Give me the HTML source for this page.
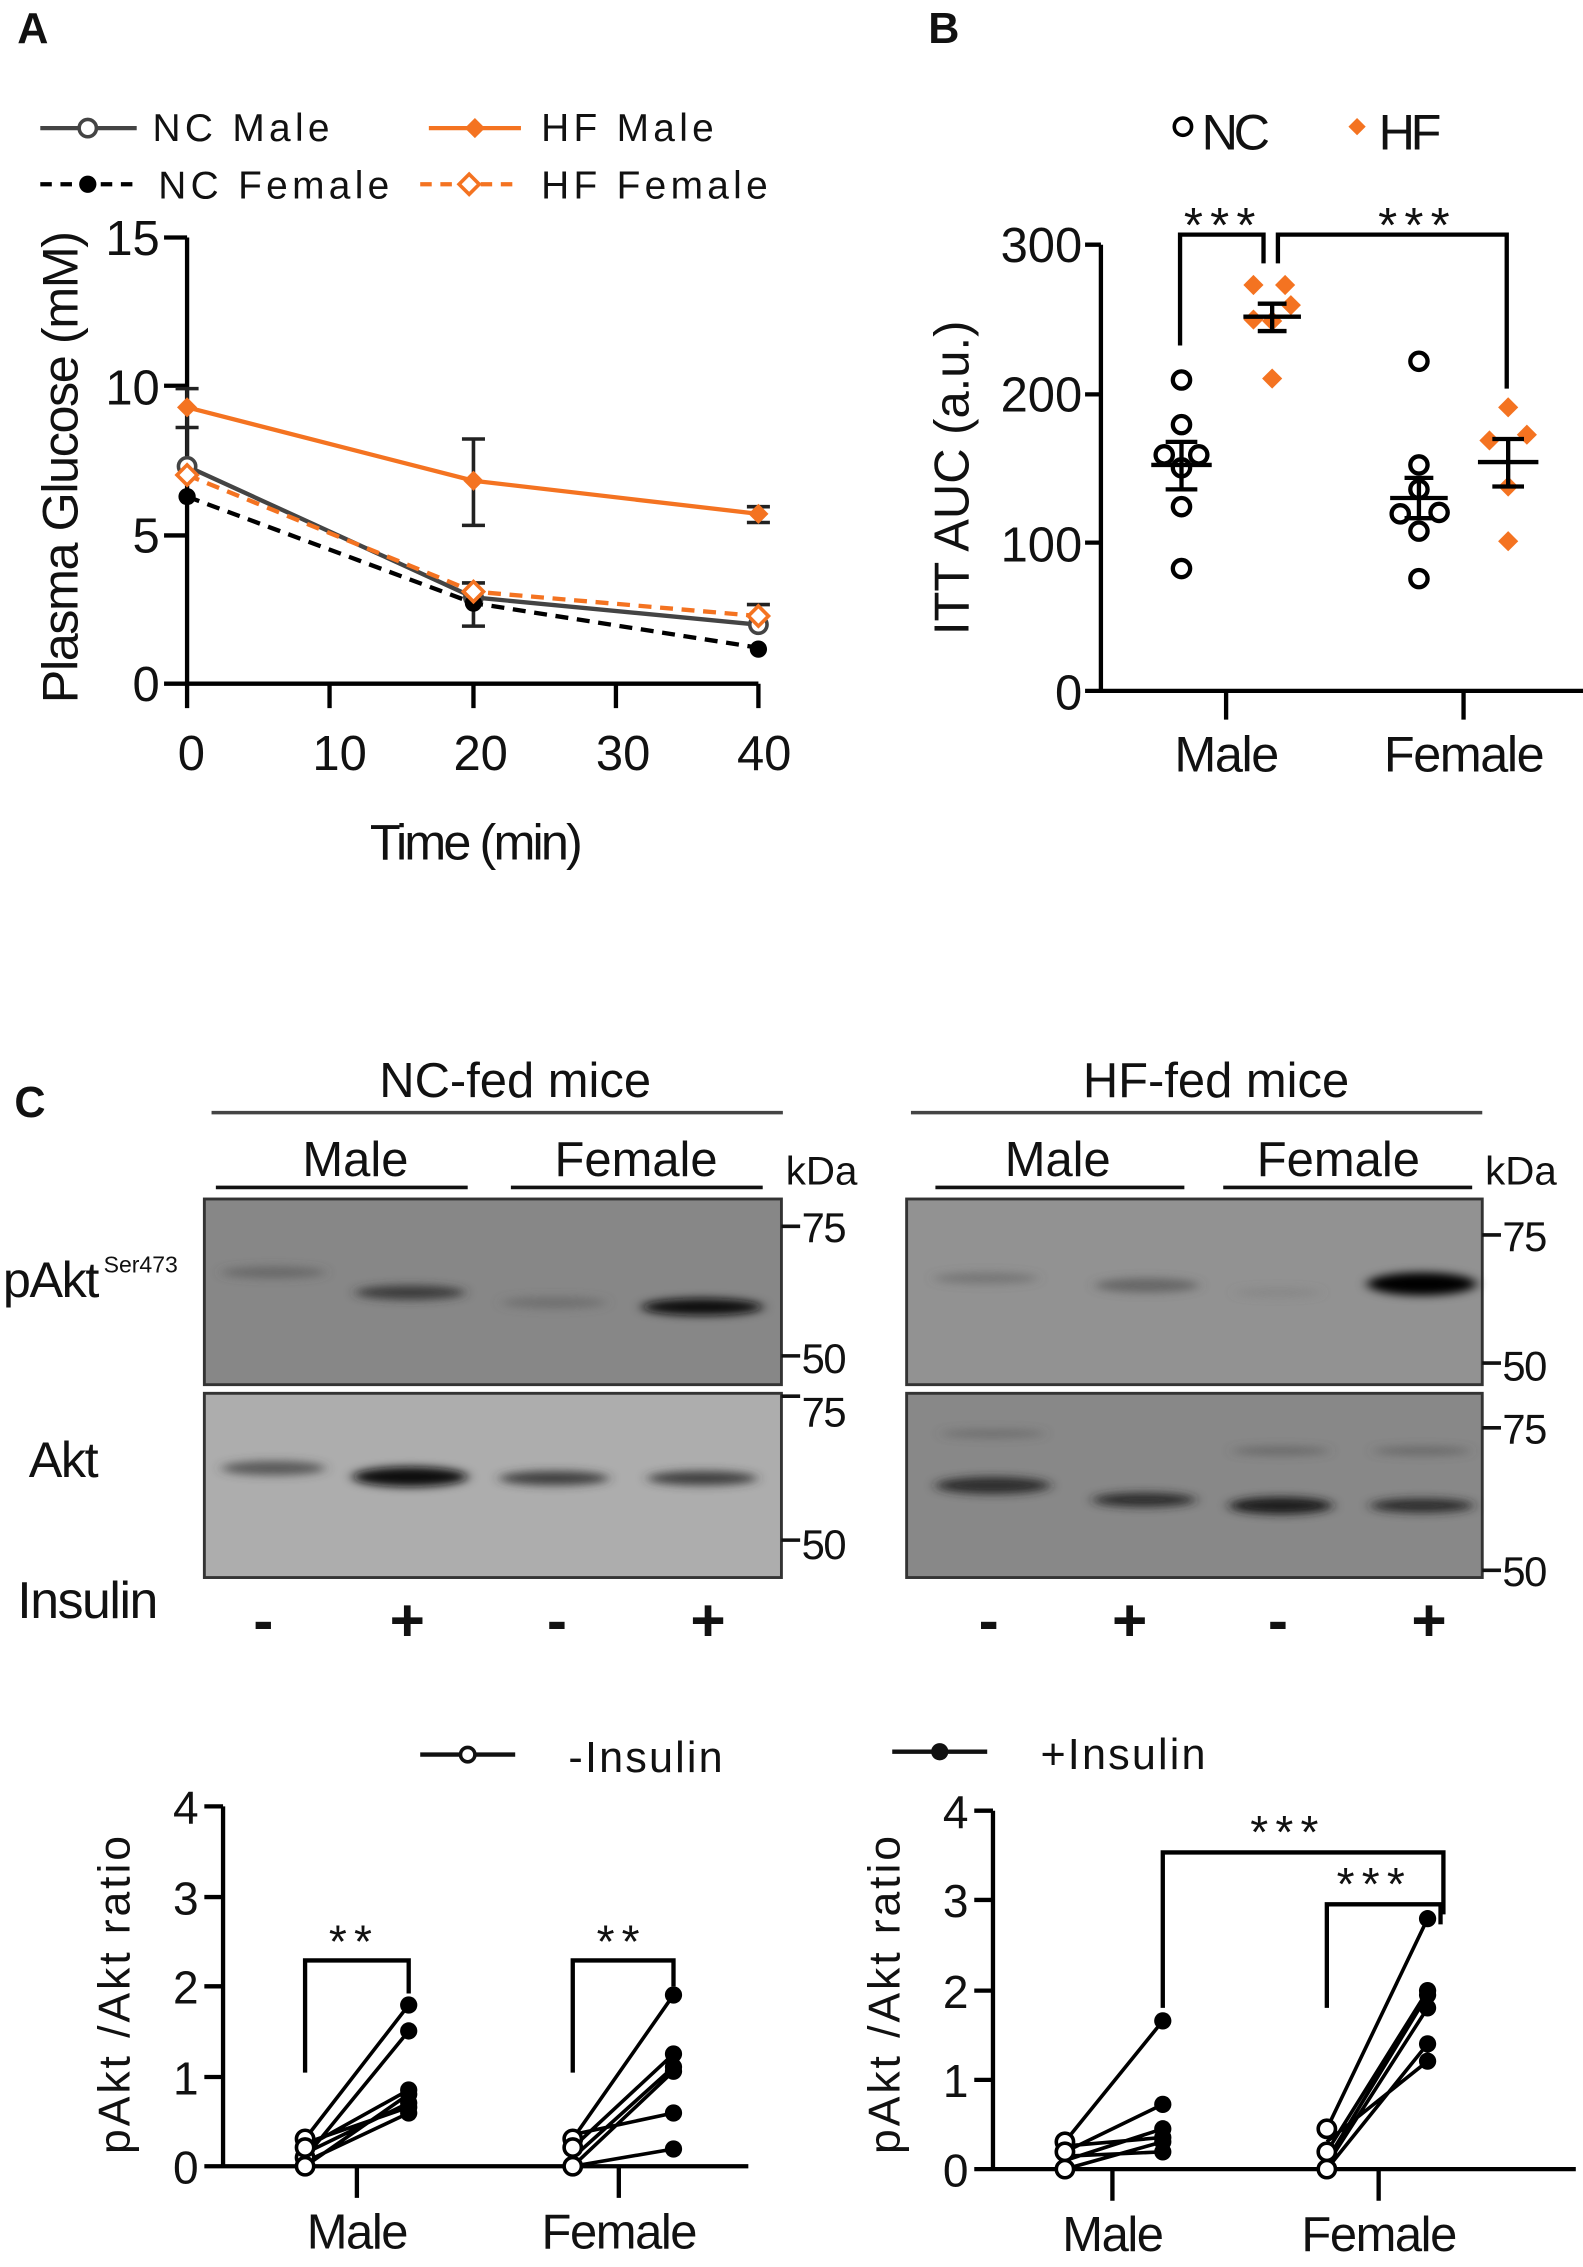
<!DOCTYPE html>
<html><head><meta charset="utf-8"><style>
html,body{margin:0;padding:0;background:#fff}
svg{display:block}
text{font-family:"Liberation Sans",Arial,sans-serif;fill:#111}
</style></head><body>
<svg width="1583" height="2267" viewBox="0 0 1100 1575" preserveAspectRatio="none" xmlns="http://www.w3.org/2000/svg">
<defs>
<filter id="bl" x="-30%" y="-200%" width="160%" height="500%"><feGaussianBlur stdDeviation="4 3"/></filter>
</defs>
<!-- Panel A -->
<text x="12" y="30" font-size="30" font-weight="bold">A</text>
<g font-size="27" letter-spacing="3">
<line x1="28" y1="89" x2="95" y2="89" stroke="#444" stroke-width="3"/><circle cx="61" cy="89" r="6" fill="#fff" stroke="#444" stroke-width="2.5"/>
<text x="106" y="98">NC Male</text>
<line x1="28" y1="128" x2="95" y2="128" stroke="#000" stroke-width="3" stroke-dasharray="8,6"/><circle cx="61" cy="128" r="6" fill="#000"/>
<text x="110" y="138">NC Female</text>
<line x1="298" y1="89" x2="362" y2="89" stroke="#f47321" stroke-width="3"/><path d="M330 82 L337 89 L330 96 L323 89Z" fill="#f47321"/>
<text x="376" y="98">HF Male</text>
<line x1="292" y1="128" x2="362" y2="128" stroke="#f47321" stroke-width="3" stroke-dasharray="8,6"/><path d="M326 121 L333 128 L326 135 L319 128Z" fill="#fff" stroke="#f47321" stroke-width="2.5"/>
<text x="376" y="138">HF Female</text>
</g>
<g stroke="#000" stroke-width="3" fill="none">
<path d="M130 165 V475 H527"/>
<path d="M114 165 H130 M114 268 H130 M114 372 H130 M114 475 H130"/>
<path d="M130 475 V492 M229 475 V492 M329 475 V492 M428 475 V492 M527 475 V492"/>
</g>
<g font-size="34" text-anchor="end"><text x="111" y="177">15</text><text x="111" y="281">10</text><text x="111" y="384">5</text><text x="111" y="487">0</text></g>
<g font-size="34" text-anchor="middle"><text x="133" y="535">0</text><text x="236" y="535">10</text><text x="334" y="535">20</text><text x="433" y="535">30</text><text x="531" y="535">40</text></g>
<text x="330" y="597" font-size="35" text-anchor="middle" letter-spacing="-2">Time (min)</text>
<text transform="translate(54,325) rotate(-90)" font-size="35" text-anchor="middle" letter-spacing="-1">Plasma Glucose (mM)</text>
<g stroke="#222" stroke-width="2.5">
<path d="M130 270 V330 M122 270 H138 M122 297 H138"/>
<path d="M329 305 V365 M321 305 H337 M321 365 H337"/>
<path d="M527 352 V363 M519 352 H535 M519 363 H535"/>
<path d="M329 405 V435 M321 405 H337 M321 435 H337"/>
<path d="M527 420 V440 M519 420 H535"/>
</g>
<polyline points="130,324 329,415 527,434" fill="none" stroke="#444" stroke-width="3"/>
<polyline points="130,345 329,419 527,450" fill="none" stroke="#000" stroke-width="3" stroke-dasharray="9,6"/>
<polyline points="130,330 329,411 527,428" fill="none" stroke="#f47321" stroke-width="3" stroke-dasharray="9,6"/>
<polyline points="130,283 329,334 527,357" fill="none" stroke="#f47321" stroke-width="3"/>
<circle cx="130" cy="324" r="6" fill="#fff" stroke="#444" stroke-width="2.5"/><circle cx="329" cy="415" r="6" fill="#fff" stroke="#444" stroke-width="2.5"/><circle cx="527" cy="434" r="6" fill="#fff" stroke="#444" stroke-width="2.5"/>
<circle cx="130" cy="345" r="6" fill="#000"/><circle cx="329" cy="419" r="6" fill="#000"/><circle cx="527" cy="451" r="6" fill="#000"/>
<g fill="#fff" stroke="#f47321" stroke-width="2.5"><path d="M130 323 L137 330 L130 337 L123 330Z"/><path d="M329 404 L336 411 L329 418 L322 411Z"/><path d="M527 421 L534 428 L527 435 L520 428Z"/></g>
<g fill="#f47321"><path d="M130 276 L137 283 L130 290 L123 283Z"/><path d="M329 327 L336 334 L329 341 L322 334Z"/><path d="M527 350 L534 357 L527 364 L520 357Z"/></g>

<!-- Panel B -->
<text x="645" y="30" font-size="30" font-weight="bold">B</text>
<circle cx="822" cy="88" r="6" fill="#fff" stroke="#000" stroke-width="2.5"/><text x="835" y="104" font-size="35" letter-spacing="-3">NC</text>
<path d="M943 82 L949 88 L943 94 L937 88Z" fill="#f47321"/><text x="958" y="104" font-size="35" letter-spacing="-3">HF</text>
<g stroke="#000" stroke-width="3" fill="none">
<path d="M765 170 V480 H1100"/>
<path d="M754 170 H765 M754 274 H765 M754 377 H765 M754 480 H765"/>
<path d="M852 480 V500 M1017 480 V500"/>
<path d="M820 240 V163 H878 V183"/>
<path d="M888 183 V163 H1047 V270"/>
</g>
<g font-size="34" text-anchor="end"><text x="752" y="182">300</text><text x="752" y="286">200</text><text x="752" y="390">100</text><text x="752" y="493">0</text></g>
<text x="852" y="536" font-size="35" text-anchor="middle" letter-spacing="-1">Male</text>
<text x="1017" y="536" font-size="35" text-anchor="middle" letter-spacing="-1">Female</text>
<text transform="translate(673,332) rotate(-90)" font-size="34" text-anchor="middle">ITT AUC (a.u.)</text>
<text x="850" y="168" font-size="34" text-anchor="middle" letter-spacing="5">***</text>
<text x="985" y="168" font-size="34" text-anchor="middle" letter-spacing="5">***</text>
<g fill="#fff" stroke="#000" stroke-width="3">
<circle cx="821" cy="264" r="6"/><circle cx="821" cy="295" r="6"/><circle cx="809" cy="316" r="6"/><circle cx="833" cy="316" r="6"/><circle cx="821" cy="325" r="6"/><circle cx="821" cy="352" r="6"/><circle cx="821" cy="395" r="6"/>
<circle cx="986" cy="251" r="6"/><circle cx="986" cy="323" r="6"/><circle cx="986" cy="340" r="6"/><circle cx="1000" cy="356" r="6"/><circle cx="973" cy="357" r="6"/><circle cx="986" cy="369" r="6"/><circle cx="986" cy="402" r="6"/>
</g>
<g fill="#f47321">
<path d="M871 191l7 7-7 7-7-7z"/><path d="M893 191l7 7-7 7-7-7z"/><path d="M897 205l7 7-7 7-7-7z"/><path d="M871 215l7 7-7 7-7-7z"/><path d="M884 216l7 7-7 7-7-7z"/><path d="M884 256l7 7-7 7-7-7z"/>
<path d="M1048 276l7 7-7 7-7-7z"/><path d="M1061 295l7 7-7 7-7-7z"/><path d="M1035 299l7 7-7 7-7-7z"/><path d="M1048 331l7 7-7 7-7-7z"/><path d="M1048 369l7 7-7 7-7-7z"/>
</g>
<g stroke="#000" stroke-width="3">
<path d="M800 323 H842 M810 307 H832 M810 340 H832 M821 307 V340"/>
<path d="M864 220 H904 M874 211 H894 M874 230 H894 M884 211 V230"/>
<path d="M966 346 H1006 M976 332 H996 M976 360 H996 M986 332 V360"/>
<path d="M1027 321 H1069 M1037 305 H1059 M1037 338 H1059 M1048 305 V338"/>
</g>

<!-- Panel C blots -->
<text x="10" y="776" font-size="30" font-weight="bold">C</text>
<g font-size="34" text-anchor="middle" letter-spacing="0">
<text x="358" y="762">NC-fed mice</text><text x="845" y="762">HF-fed mice</text>
<text x="247" y="817">Male</text><text x="442" y="817">Female</text>
<text x="735" y="817">Male</text><text x="930" y="817">Female</text>
</g>
<g font-size="28"><text x="546" y="823">kDa</text><text x="1032" y="823">kDa</text></g>
<g stroke="#444" stroke-width="2.5">
<path d="M147 773 H544 M633 773 H1030"/>
</g>
<g stroke="#111" stroke-width="2.5">
<path d="M150 825 H325 M355 825 H530 M650 825 H823 M850 825 H1023"/>
</g>
<rect x="142" y="833" width="401" height="129" fill="#878787" stroke="#333" stroke-width="2"/>
<rect x="142" y="968" width="401" height="128" fill="#adadad" stroke="#333" stroke-width="2"/>
<rect x="630" y="833" width="400" height="129" fill="#929292" stroke="#333" stroke-width="2"/>
<rect x="630" y="968" width="400" height="128" fill="#888" stroke="#333" stroke-width="2"/>
<g filter="url(#bl)">
<ellipse cx="190" cy="884" rx="36" ry="4" fill="#555" opacity="0.6"/>
<ellipse cx="285" cy="898" rx="38" ry="5" fill="#333" opacity="0.9"/>
<ellipse cx="385" cy="905" rx="36" ry="4" fill="#666" opacity="0.7"/>
<ellipse cx="488" cy="908" rx="42" ry="6" fill="#111"/>
<ellipse cx="190" cy="1020" rx="36" ry="5" fill="#444" opacity="0.8"/>
<ellipse cx="285" cy="1026" rx="40" ry="7" fill="#111"/>
<ellipse cx="385" cy="1027" rx="38" ry="5" fill="#333" opacity="0.9"/>
<ellipse cx="488" cy="1027" rx="38" ry="5" fill="#333" opacity="0.9"/>
<ellipse cx="685" cy="888" rx="36" ry="4" fill="#666" opacity="0.6"/>
<ellipse cx="797" cy="893" rx="36" ry="5" fill="#555" opacity="0.7"/>
<ellipse cx="888" cy="898" rx="30" ry="3" fill="#777" opacity="0.4"/>
<ellipse cx="988" cy="892" rx="38" ry="8" fill="#000"/>
<ellipse cx="690" cy="1032" rx="40" ry="6" fill="#222" opacity="0.9"/>
<ellipse cx="795" cy="1042" rx="36" ry="5" fill="#222" opacity="0.9"/>
<ellipse cx="890" cy="1046" rx="36" ry="6" fill="#1a1a1a"/>
<ellipse cx="988" cy="1046" rx="36" ry="5" fill="#222" opacity="0.9"/>
<ellipse cx="690" cy="996" rx="36" ry="3" fill="#555" opacity="0.5"/>
<ellipse cx="890" cy="1008" rx="34" ry="3" fill="#555" opacity="0.6"/>
<ellipse cx="988" cy="1008" rx="34" ry="3" fill="#555" opacity="0.6"/>
</g>
<g stroke="#111" stroke-width="2.5">
<path d="M543 852 H556 M543 942 H556 M543 970 H556 M543 1070 H556"/>
<path d="M1030 858 H1043 M1030 947 H1043 M1030 992 H1043 M1030 1091 H1043"/>
</g>
<g font-size="29" letter-spacing="-1">
<text x="557" y="863">75</text><text x="557" y="954">50</text><text x="557" y="991">75</text><text x="557" y="1083">50</text>
<text x="1044" y="869">75</text><text x="1044" y="959">50</text><text x="1044" y="1003">75</text><text x="1044" y="1102">50</text>
</g>
<text x="2" y="901" font-size="35" letter-spacing="-1">pAkt</text><text x="72" y="884" font-size="16">Ser473</text>
<text x="20" y="1026" font-size="35" letter-spacing="-1">Akt</text>
<text x="12" y="1124" font-size="36" letter-spacing="-1">Insulin</text>
<g font-size="42" font-weight="bold" text-anchor="middle">
<text x="183" y="1140">-</text><text x="283" y="1140">+</text><text x="387" y="1140">-</text><text x="492" y="1140">+</text>
<text x="687" y="1140">-</text><text x="785" y="1140">+</text><text x="888" y="1140">-</text><text x="993" y="1140">+</text>
</g>

<!-- Bottom legend -->
<line x1="292" y1="1219" x2="358" y2="1219" stroke="#111" stroke-width="3"/><circle cx="325" cy="1219" r="5" fill="#fff" stroke="#111" stroke-width="2.5"/>
<text x="395" y="1231" font-size="30" letter-spacing="1.5">-Insulin</text>
<line x1="620" y1="1217" x2="686" y2="1217" stroke="#111" stroke-width="3"/><circle cx="653" cy="1217" r="6" fill="#111"/>
<text x="723" y="1229" font-size="30" letter-spacing="1.5">+Insulin</text>

<!-- Bottom left chart -->
<g stroke="#000" stroke-width="3" fill="none">
<path d="M155 1255 V1505 M142 1505 H520"/>
<path d="M142 1255 H155 M142 1318 H155 M142 1380 H155 M142 1443 H155"/>
<path d="M248 1505 V1527 M430 1505 V1527"/>
<path d="M212 1440 V1362 H284 V1385"/>
<path d="M398 1440 V1362 H468 V1380"/>
</g>
<g font-size="32" text-anchor="end"><text x="138" y="1267">4</text><text x="138" y="1330">3</text><text x="138" y="1392">2</text><text x="138" y="1455">1</text><text x="138" y="1517">0</text></g>
<text x="248" y="1562" font-size="34" text-anchor="middle" letter-spacing="-1">Male</text>
<text x="430" y="1562" font-size="34" text-anchor="middle" letter-spacing="-1">Female</text>
<text transform="translate(90,1385) rotate(-90)" font-size="31" text-anchor="middle" letter-spacing="2">pAkt /Akt ratio</text>
<text x="246" y="1360" font-size="32" text-anchor="middle" letter-spacing="5">**</text>
<text x="432" y="1360" font-size="32" text-anchor="middle" letter-spacing="5">**</text>
<g stroke="#000" stroke-width="2.5">
<path d="M212 1486 L284 1393 M212 1499 L284 1411 M212 1492 L284 1452 M212 1505 L284 1455 M212 1496 L284 1461 M212 1489 L284 1464 M212 1502 L284 1468"/>
<path d="M398 1486 L468 1386 M398 1492 L468 1427 M398 1499 L468 1436 M398 1483 L468 1468 M398 1505 L468 1493 M398 1505 L468 1439"/>
</g>
<g fill="#000">
<circle cx="284" cy="1393" r="6"/><circle cx="284" cy="1411" r="6"/><circle cx="284" cy="1452" r="6"/><circle cx="284" cy="1455" r="6"/><circle cx="284" cy="1461" r="6"/><circle cx="284" cy="1464" r="6"/><circle cx="284" cy="1468" r="6"/>
<circle cx="468" cy="1386" r="6"/><circle cx="468" cy="1427" r="6"/><circle cx="468" cy="1436" r="6"/><circle cx="468" cy="1468" r="6"/><circle cx="468" cy="1493" r="6"/><circle cx="468" cy="1439" r="6"/>
</g>
<g fill="#fff" stroke="#000" stroke-width="2.5">
<circle cx="212" cy="1486" r="6"/><circle cx="212" cy="1499" r="6"/><circle cx="212" cy="1492" r="6"/><circle cx="212" cy="1505" r="6"/>
<circle cx="398" cy="1486" r="6"/><circle cx="398" cy="1492" r="6"/><circle cx="398" cy="1505" r="6"/>
</g>

<!-- Bottom right chart -->
<g stroke="#000" stroke-width="3" fill="none">
<path d="M690 1258 V1507 M677 1507 H1095"/>
<path d="M677 1258 H690 M677 1320 H690 M677 1383 H690 M677 1445 H690"/>
<path d="M773 1507 V1529 M958 1507 V1529"/>
<path d="M808 1395 V1287 H1003 V1330"/>
<path d="M922 1395 V1323 H1001 V1337"/>
</g>
<g font-size="32" text-anchor="end"><text x="673" y="1270">4</text><text x="673" y="1332">3</text><text x="673" y="1395">2</text><text x="673" y="1457">1</text><text x="673" y="1519">0</text></g>
<text x="773" y="1564" font-size="34" text-anchor="middle" letter-spacing="-1">Male</text>
<text x="958" y="1564" font-size="34" text-anchor="middle" letter-spacing="-1">Female</text>
<text transform="translate(625,1385) rotate(-90)" font-size="31" text-anchor="middle" letter-spacing="2">pAkt /Akt ratio</text>
<text x="895" y="1284" font-size="32" text-anchor="middle" letter-spacing="5">***</text>
<text x="955" y="1320" font-size="32" text-anchor="middle" letter-spacing="5">***</text>
<g stroke="#000" stroke-width="2.5">
<path d="M740 1488 L808 1404 M740 1495 L808 1462 M740 1501 L808 1479 M740 1491 L808 1485 M740 1507 L808 1488 M740 1498 L808 1495"/>
<path d="M922 1479 L992 1333 M922 1495 L992 1383 M922 1501 L992 1386 M922 1504 L992 1395 M922 1507 L992 1420 M922 1488 L992 1432"/>
</g>
<g fill="#000">
<circle cx="808" cy="1404" r="6"/><circle cx="808" cy="1462" r="6"/><circle cx="808" cy="1479" r="6"/><circle cx="808" cy="1485" r="6"/><circle cx="808" cy="1488" r="6"/><circle cx="808" cy="1495" r="6"/>
<circle cx="992" cy="1333" r="6"/><circle cx="992" cy="1383" r="6"/><circle cx="992" cy="1386" r="6"/><circle cx="992" cy="1395" r="6"/><circle cx="992" cy="1420" r="6"/><circle cx="992" cy="1432" r="6"/>
</g>
<g fill="#fff" stroke="#000" stroke-width="2.5">
<circle cx="740" cy="1488" r="6"/><circle cx="740" cy="1495" r="6"/><circle cx="740" cy="1507" r="6"/>
<circle cx="922" cy="1479" r="6"/><circle cx="922" cy="1495" r="6"/><circle cx="922" cy="1507" r="6"/>
</g>
</svg>
</body></html>
